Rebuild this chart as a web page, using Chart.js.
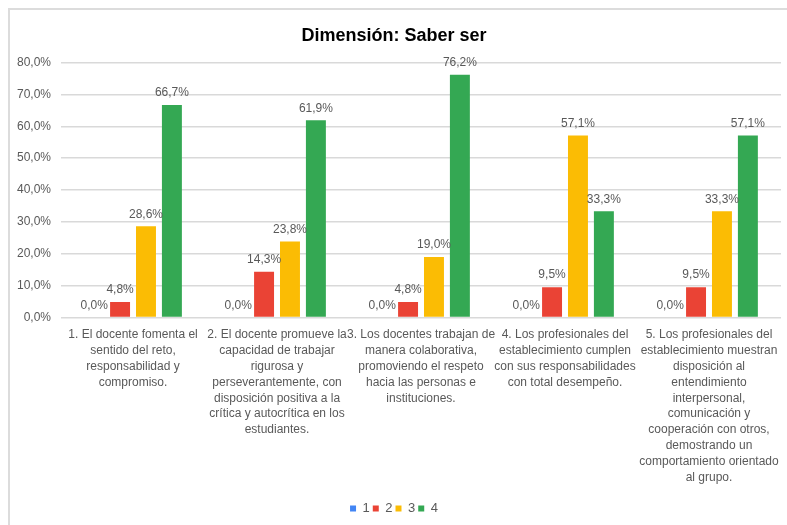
<!DOCTYPE html>
<html lang="es">
<head>
    <meta charset="UTF-8">
    <title>Dimensión: Saber ser</title>
    <script src="https://cdn.jsdelivr.net/npm/chart.js"></script>
    <style>
        body { margin: 0; background: #fff; }
        #frame {
            position: absolute; left: 8px; top: 8px; width: 779px; height: 517px;
            border-top: 2px solid #dcdcdc; border-left: 2px solid #dcdcdc;
        }
        #wrap { position: absolute; left: 0; top: 0; width: 787px; height: 525px; }
    </style>
</head>
<body>
    <div id="frame"></div>
    <div id="wrap"><canvas id="chart"></canvas></div>
    <script>
        // categorías (etiquetas del eje x, ya partidas en líneas)
        const categories = [
            ["1. El docente fomenta el", "sentido del reto,", "responsabilidad y", "compromiso."],
            ["2. El docente promueve la", "capacidad de trabajar", "rigurosa y", "perseverantemente, con", "disposición positiva a la", "crítica y autocrítica en los", "estudiantes."],
            ["3. Los docentes trabajan de", "manera colaborativa,", "promoviendo el respeto", "hacia las personas e", "instituciones."],
            ["4. Los profesionales del", "establecimiento cumplen", "con sus responsabilidades", "con total desempeño."],
            ["5. Los profesionales del", "establecimiento muestran", "disposición al", "entendimiento", "interpersonal,", "comunicación y", "cooperación con otros,", "demostrando un", "comportamiento orientado", "al grupo."]
        ];
        const seriesNames = ["1", "2", "3", "4"];
        const serie1 = [0.0, 0.0, 0.0, 0.0, 0.0];
        const serie2 = [4.8, 14.3, 4.8, 9.5, 9.5];
        const serie3 = [28.6, 23.8, 19.0, 57.1, 33.3];
        const serie4 = [66.7, 61.9, 76.2, 33.3, 57.1];
        const colores = ['#4285f4', '#ea4335', '#fbbc04', '#34a853'];
        const yTicks = [0, 10, 20, 30, 40, 50, 60, 70, 80];

        const pct = v => v.toFixed(1).replace('.', ',') + '%';
        const FONT = "'Liberation Sans', Arial, sans-serif";

        // etiquetas de datos encima de cada barra
        const etiquetas = {
            id: 'etiquetas',
            afterDatasetsDraw(chart) {
                const ctx = chart.ctx;
                ctx.save();
                ctx.font = '12px ' + FONT;
                ctx.fillStyle = '#595959';
                ctx.textAlign = 'center';
                ctx.textBaseline = 'bottom';
                chart.data.datasets.forEach((ds, i) => {
                    chart.getDatasetMeta(i).data.forEach((bar, j) => {
                        ctx.fillText(pct(ds.data[j]), bar.x, bar.y - 6);
                    });
                });
                ctx.restore();
            }
        };

        const series = [serie1, serie2, serie3, serie4];
        new Chart(document.getElementById('chart'), {
            type: 'bar',
            data: {
                labels: categories,
                datasets: series.map((d, i) => ({
                    label: seriesNames[i],
                    data: d,
                    backgroundColor: colores[i],
                    categoryPercentage: 0.72,
                    barPercentage: 0.77
                }))
            },
            options: {
                responsive: true,
                maintainAspectRatio: false,
                animation: false,
                layout: { padding: { left: 7, right: 6, top: 25, bottom: 0 } },
                plugins: {
                    title: {
                        display: true,
                        text: 'Dimensión: Saber ser',
                        color: '#000',
                        font: { family: FONT, size: 18, weight: 'bold' },
                        padding: { top: 0, bottom: 16 }
                    },
                    legend: {
                        position: 'bottom',
                        labels: {
                            boxWidth: 6, boxHeight: 6, padding: 3,
                            color: '#595959',
                            font: { family: FONT, size: 13 }
                        }
                    },
                    tooltip: { enabled: false }
                },
                scales: {
                    x: {
                        grid: { display: false },
                        border: { display: false },
                        // espacio extra entre las etiquetas y la leyenda
                        afterFit: axis => { axis.height += 12; },
                        ticks: {
                            color: '#595959',
                            font: { family: FONT, size: 12, lineHeight: 1.33 },
                            maxRotation: 0, autoSkip: false, padding: 1
                        }
                    },
                    y: {
                        min: 0, max: 80,
                        afterBuildTicks: axis => { axis.ticks = yTicks.map(v => ({ value: v })); },
                        grid: { color: '#d9d9d9', drawTicks: false, lineWidth: 1.5 },
                        border: { display: false },
                        ticks: {
                            color: '#595959',
                            font: { family: FONT, size: 12 },
                            padding: 10,
                            callback: v => pct(v)
                        }
                    }
                }
            },
            plugins: [etiquetas]
        });
    </script>
</body>
</html>
